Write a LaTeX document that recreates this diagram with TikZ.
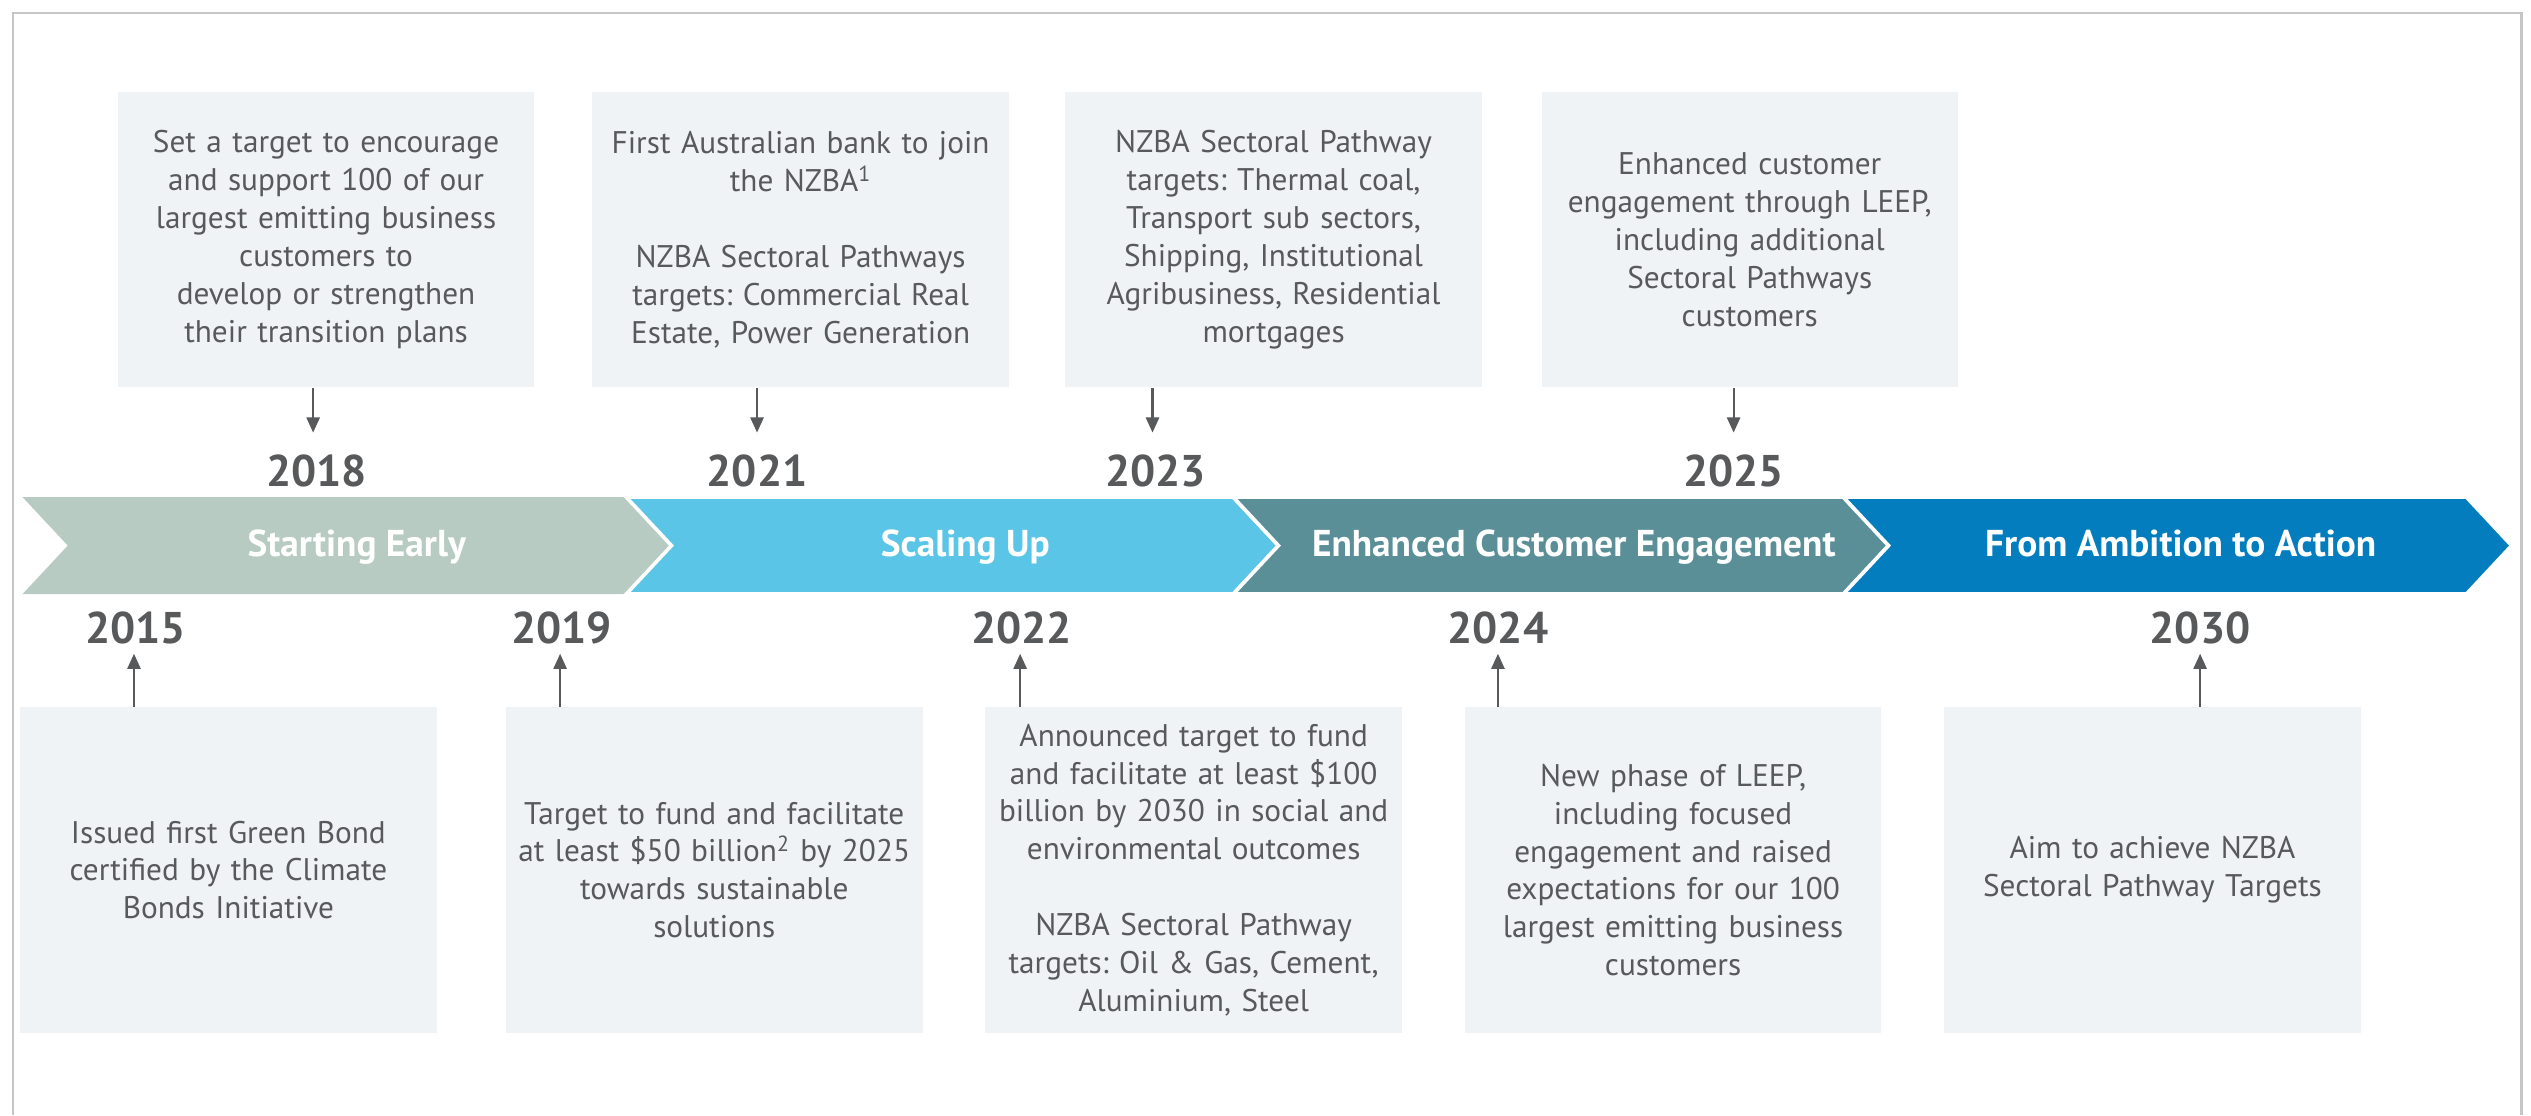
\documentclass[tikz,border=0pt]{standalone}
\usepackage{fontspec}
\setmainfont{PT Sans}
\usetikzlibrary{arrows.meta}
\definecolor{txtgray}{HTML}{58595B}
\definecolor{boxfill}{HTML}{EFF3F6}
\definecolor{framegray}{HTML}{C6C6C6}
\definecolor{segA}{HTML}{B7CBC3}
\definecolor{segB}{HTML}{5BC5E8}
\definecolor{segC}{HTML}{5A8F98}
\definecolor{segD}{HTML}{037DBD}
\frenchspacing
\begin{document}
\begin{tikzpicture}[x=0.8pt,y=-0.8pt,
  evbox/.style={fill=boxfill, draw=none, minimum width=206.4pt, minimum height=146.4pt,
    text width=200pt, align=center, inner sep=0pt, text=txtgray,
    font=\fontsize{15.5}{18.8}\selectfont},
  lowbox/.style={evbox, minimum height=161.6pt},
  yearlbl/.style={text=txtgray, font=\fontsize{22}{24}\selectfont\bfseries, inner sep=1pt},
  arr/.style={draw=txtgray, line width=1.1pt, -{Triangle[length=7.5pt,width=6.5pt]}},
  seglbl/.style={text=white, font=\fontsize{18.5}{20}\selectfont\bfseries, anchor=base},
  segshape/.style={draw=white, line width=1.8pt, line join=miter}
]
\useasboundingbox (0,0) rectangle (1568,691);
% frame
\draw[framegray, line width=1.2pt] (8,691) -- (8,8) -- (1562,8) -- (1562,691);

% chevron band
\def\bt{308}\def\bb{368}\def\bm{338}\def\dd{28}
\fill[segA] (14,\bt) -- (388,\bt) -- (388+\dd,\bm) -- (388,\bb) -- (14,\bb) -- (14+\dd,\bm) -- cycle;
\path[segshape, fill=segB] (388,\bt) -- (764,\bt) -- (764+\dd,\bm) -- (764,\bb) -- (388,\bb) -- (388+\dd,\bm) -- cycle;
\path[segshape, fill=segC] (764,\bt) -- (1142,\bt) -- (1142+\dd,\bm) -- (1142,\bb) -- (764,\bb) -- (764+\dd,\bm) -- cycle;
\path[segshape, fill=segD] (1142,\bt) -- (1528,\bt) -- (1528+\dd,\bm) -- (1528,\bb) -- (1142,\bb) -- (1142+\dd,\bm) -- cycle;
\node[seglbl] (sA) at (221,345) {Starting Early};
\node[seglbl] (sB) at (598,345) {Scaling Up};
\node[seglbl] (sC) at (975,345) {Enhanced Customer Engagement};
\node[seglbl] (sD) at (1351,345) {From Ambition to Action};

% top boxes
\node[evbox] (bA) at (202,148.5) {Set a target to encourage\\and support 100 of our\\largest emitting business\\customers to\\develop or strengthen\\their transition plans\\[18.8pt]};
\node[evbox] (bB) at (496,148.5) {First Australian bank to join\\the NZBA\textsuperscript{1}\\[18.8pt]NZBA Sectoral Pathways\\targets: Commercial Real\\Estate, Power Generation};
\node[evbox] (bC) at (789,148.5) {NZBA Sectoral Pathway\\targets: Thermal coal,\\Transport sub sectors,\\Shipping, Institutional\\Agribusiness, Residential\\mortgages};
\node[evbox] (bD) at (1084,148.5) {Enhanced customer\\engagement through LEEP,\\including additional\\Sectoral Pathways\\customers};

% top years
\node[yearlbl] (y2018) at (196,292) {2018};
\node[yearlbl] (y2021) at (469,292) {2021};
\node[yearlbl] (y2023) at (716,292) {2023};
\node[yearlbl] (y2025) at (1074,292) {2025};
\draw[arr] (bA.south -| 194,0) -- (194,268);
\draw[arr] (bB.south -| 469,0) -- (469,268);
\draw[arr] (bC.south -| 714,0) -- (714,268);
\draw[arr] (bD.south -| 1074,0) -- (1074,268);

% bottom boxes
\node[lowbox] (bE) at (141.5,539) {Issued first Green Bond\\certified by the Climate\\Bonds Initiative};
\node[lowbox] (bF) at (442.5,539) {Target to fund and facilitate\\at least \$50 billion\textsuperscript{2} by 2025\\towards sustainable\\solutions};
\node[lowbox] (bG) at (739.5,539) {Announced target to fund\\and facilitate at least \$100\\billion by 2030 in social and\\environmental outcomes\\[18.8pt]NZBA Sectoral Pathway\\targets: Oil \& Gas, Cement,\\Aluminium, Steel};
\node[lowbox] (bH) at (1036.5,539) {New phase of LEEP,\\including focused\\engagement and raised\\expectations for our 100\\largest emitting business\\customers\\[18.8pt]};
\node[lowbox] (bI) at (1333.5,539) {Aim to achieve NZBA\\Sectoral Pathway Targets};

% bottom years
\node[yearlbl] (y2015) at (84,389) {2015};
\node[yearlbl] (y2019) at (348,389) {2019};
\node[yearlbl] (y2022) at (633,389) {2022};
\node[yearlbl] (y2024) at (928,389) {2024};
\node[yearlbl] (y2030) at (1363,389) {2030};
\draw[arr] (bE.north -| 83,0) -- (83,405);
\draw[arr] (bF.north -| 347,0) -- (347,405);
\draw[arr] (bG.north -| 632,0) -- (632,405);
\draw[arr] (bH.north -| 928,0) -- (928,405);
\draw[arr] (bI.north -| 1363,0) -- (1363,405);
\end{tikzpicture}
\end{document}
